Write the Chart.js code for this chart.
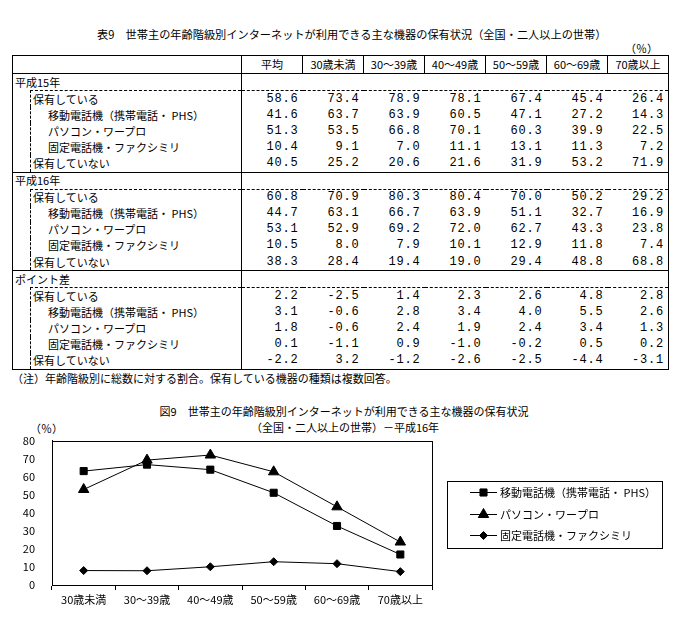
<!DOCTYPE html>
<html lang="ja">
<head>
<meta charset="utf-8">
<title>表9・図9 インターネットが利用できる主な機器の保有状況</title>
<script src="https://cdn.jsdelivr.net/npm/chart.js@4.4.0/dist/chart.umd.min.js"></script>
<style>
  body { margin: 0; width: 676px; height: 626px; background: #fff; position: relative;
         font-family: "Noto Sans CJK JP", sans-serif; font-size: 11px; color: #000; overflow: hidden; }
  .abs { position: absolute; white-space: nowrap; line-height: 1; }
  #tbl { position: absolute; left: 12px; top: 55px; border-collapse: collapse; table-layout: fixed; }
  #tbl td { padding: 0; height: 16.1px; line-height: 1; white-space: nowrap; }
  #tbl tr.head td { height: 17px; border: 1px solid #000; text-align: center; }
  #tbl td.num { text-align: right; padding-right: 4px; font-family: "Liberation Mono", monospace;
                font-size: 12px; line-height: 11px; letter-spacing: 0.8px; }
  #tbl td.sep { border-left: 1px solid #000; }
  #tbl td.right { border-right: 1px solid #000; }
  #tbl tr.sec td { border-top: 1px solid #000; }
  #tbl tr.first td.lab, #tbl tr.first td.num { border-top: 1px dashed #000; }
  #tbl td.lab { border-left: 1px dashed #000; }
  #tbl td.out { border-left: 1px solid #000; }
  #tbl tr.last td { border-bottom: 1px solid #000; }
  #chart { position: absolute; left: 0; top: 425px; }
</style>
</head>
<body>
<div class="abs" id="t1" style="left:97px; top:29px; font-size:11.2px;">表9　世帯主の年齢階級別インターネットが利用できる主な機器の保有状況（全国・二人以上の世帯）</div>
<div class="abs" style="left:625px; top:43px;">（％）</div>
<table id="tbl"></table>
<div class="abs" style="left:12px; top:373px;">（注）年齢階級別に総数に対する割合。保有している機器の種類は複数回答。</div>

<div class="abs" style="left:0; width:688px; text-align:center; top:406px;">図9　世帯主の年齢階級別インターネットが利用できる主な機器の保有状況</div>
<div class="abs" style="left:0; width:690px; text-align:center; top:422px;">（全国・二人以上の世帯）－平成16年</div>
<div class="abs" style="left:30px; top:423px;">（％）</div>
<canvas id="chart" width="676" height="201"></canvas>

<script>
// Column headings
const columns = ['平均', '30歳未満', '30～39歳', '40～49歳', '50～59歳', '60～69歳', '70歳以上'];
const ageGroups = ['30歳未満', '30～39歳', '40～49歳', '50～59歳', '60～69歳', '70歳以上'];
const itemNames = ['保有している', '移動電話機（携帯電話・ PHS）', 'パソコン・ワープロ', '固定電話機・ファクシミリ', '保有していない'];
const sections = ['平成15年', '平成16年', 'ポイント差'];

// 平成15年
const h15Have   = [58.6, 73.4, 78.9, 78.1, 67.4, 45.4, 26.4];
const h15Mobile = [41.6, 63.7, 63.9, 60.5, 47.1, 27.2, 14.3];
const h15PC     = [51.3, 53.5, 66.8, 70.1, 60.3, 39.9, 22.5];
const h15Fixed  = [10.4, 9.1, 7.0, 11.1, 13.1, 11.3, 7.2];
const h15None   = [40.5, 25.2, 20.6, 21.6, 31.9, 53.2, 71.9];

// 平成16年
const h16Have   = [60.8, 70.9, 80.3, 80.4, 70.0, 50.2, 29.2];
const h16Mobile = [44.7, 63.1, 66.7, 63.9, 51.1, 32.7, 16.9];
const h16PC     = [53.1, 52.9, 69.2, 72.0, 62.7, 43.3, 23.8];
const h16Fixed  = [10.5, 8.0, 7.9, 10.1, 12.9, 11.8, 7.4];
const h16None   = [38.3, 28.4, 19.4, 19.0, 29.4, 48.8, 68.8];

// ポイント差
const diffHave   = [2.2, -2.5, 1.4, 2.3, 2.6, 4.8, 2.8];
const diffMobile = [3.1, -0.6, 2.8, 3.4, 4.0, 5.5, 2.6];
const diffPC     = [1.8, -0.6, 2.4, 1.9, 2.4, 3.4, 1.3];
const diffFixed  = [0.1, -1.1, 0.9, -1.0, -0.2, 0.5, 0.2];
const diffNone   = [-2.2, 3.2, -1.2, -2.6, -2.5, -4.4, -3.1];

const blocks = [
  [h15Have, h15Mobile, h15PC, h15Fixed, h15None],
  [h16Have, h16Mobile, h16PC, h16Fixed, h16None],
  [diffHave, diffMobile, diffPC, diffFixed, diffNone]
];

// ---- table ----
const tbl = document.getElementById('tbl');
let html = '<colgroup><col style="width:18px"><col style="width:211px">' +
  columns.map(() => '<col style="width:61px">').join('') + '</colgroup>';
html += '<tr class="head"><td colspan="2"></td>' + columns.map(c => `<td>${c}</td>`).join('') + '</tr>';

sections.forEach((sec, b) => {
  html += `<tr class="sec"><td colspan="2" class="out" style="padding-left:2px">${sec}</td>` +
          `<td colspan="7" class="sep right"></td></tr>`;
  blocks[b].forEach((row, i) => {
    const cls = i === 0 ? 'first' : (i === 4 ? 'last' : '');
    const indent = (i === 0 || i === 4) ? 2 : 17;
    html += `<tr class="${cls}"><td class="out"></td>` +
            `<td class="lab" style="padding-left:${indent}px">${itemNames[i]}</td>` +
            row.map((v, k) => `<td class="num${k === 0 ? ' sep' : ''}${k === 6 ? ' right' : ''}">${v.toFixed(1)}</td>`).join('') +
            '</tr>';
  });
});
tbl.innerHTML = html;

// ---- chart ----
const seriesNames = ['移動電話機（携帯電話・ PHS）', 'パソコン・ワープロ', '固定電話機・ファクシミリ'];
const chartFont = { family: '"Noto Sans CJK JP", sans-serif', size: 11 };

// Box around the plot area
const framePlugin = {
  id: 'frame',
  afterDraw(chart) {
    const { ctx, chartArea: a } = chart;
    ctx.save();
    ctx.strokeStyle = '#000';
    ctx.lineWidth = 1;
    ctx.strokeRect(Math.round(a.left) + 0.5, Math.round(a.top) + 0.5,
                   Math.round(a.right - a.left), Math.round(a.bottom - a.top));
    ctx.restore();
  }
};

// Boxed legend with line + marker samples
const legendPlugin = {
  id: 'boxLegend',
  afterDraw(chart) {
    const ctx = chart.ctx;
    ctx.save();
    ctx.strokeStyle = '#000';
    ctx.lineWidth = 1;
    ctx.strokeRect(447.5, 56.5, 215, 67);
    ctx.font = '11px "Noto Sans CJK JP", sans-serif';
    ctx.fillStyle = '#000';
    ctx.textBaseline = 'middle';
    const rows = [67, 89, 110];
    chart.data.datasets.forEach((ds, i) => {
      const y = rows[i] + 0.5;
      ctx.beginPath();
      ctx.moveTo(470, y);
      ctx.lineTo(497, y);
      ctx.stroke();
      Chart.helpers.drawPoint(ctx, {
        pointStyle: ds.pointStyle, radius: ds.pointRadius, rotation: 0, borderWidth: 1
      }, 483.5, y);
      ctx.fillStyle = '#000';
      ctx.fillText(ds.label, 500, y);
    });
    ctx.restore();
  }
};

const mk = (label, data, style, r) => ({
  label, data, pointStyle: style, pointRadius: r, pointHoverRadius: r,
  borderColor: '#000', backgroundColor: '#000', pointBackgroundColor: '#000',
  pointBorderColor: '#000', borderWidth: 1, pointBorderWidth: 1, tension: 0
});

new Chart(document.getElementById('chart'), {
  type: 'line',
  data: {
    labels: ageGroups,
    datasets: [
      mk(seriesNames[0], h16Mobile.slice(1), 'rect', 5),
      mk(seriesNames[1], h16PC.slice(1), 'triangle', 6),
      mk(seriesNames[2], h16Fixed.slice(1), 'rectRot', 4)
    ]
  },
  options: {
    responsive: false,
    animation: false,
    layout: { padding: { left: 0, right: 244, top: 5, bottom: 0 } },
    plugins: { legend: { display: false }, tooltip: { enabled: false } },
    scales: {
      x: {
        offset: true,
        grid: { display: true, drawOnChartArea: false, offset: true, tickLength: 5, color: '#000' },
        border: { color: '#000' },
        ticks: { color: '#000', font: chartFont, padding: 3, maxRotation: 0 },
        afterFit(s) { s.height = 41; }
      },
      y: {
        min: 0, max: 80,
        grid: { display: false },
        border: { color: '#000' },
        ticks: { stepSize: 10, color: '#000', font: chartFont, padding: 9 },
        afterFit(s) { s.width = 52; }
      }
    }
  },
  plugins: [framePlugin, legendPlugin]
});
</script>
</body>
</html>
